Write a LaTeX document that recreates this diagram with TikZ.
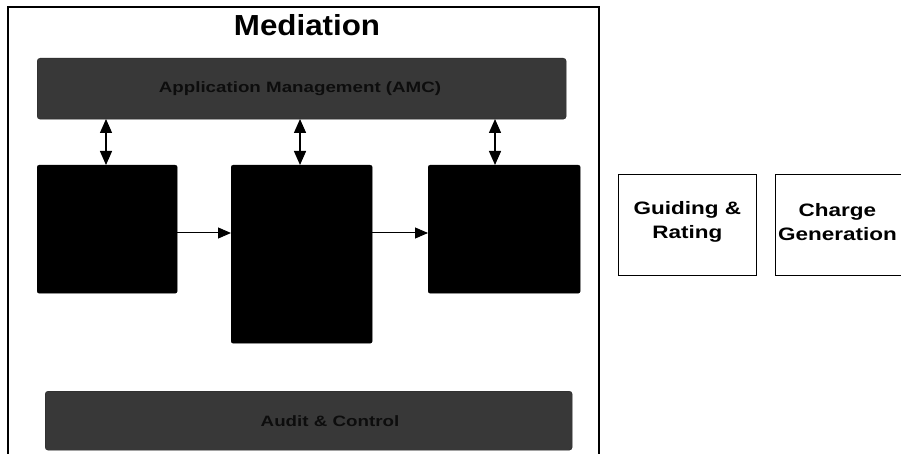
\documentclass[tikz,border=0pt]{standalone}
\usepackage{fontspec}
\setmainfont{Liberation Sans}
\newfontfamily\widefont[FakeStretch=1.25]{Liberation Sans}
\newfontfamily\titlefont[FakeStretch=1.08]{Liberation Sans}
\usetikzlibrary{arrows.meta}
\tikzset{
  blackbox/.style={draw=black, fill=black, rounded corners=2pt},
  darkbar/.style={draw=black!85, fill=black!78, rounded corners=3pt},
  whitebox/.style={draw=black, line width=0.9pt, fill=white},
  flow/.style={-{Triangle[length=13pt,width=11pt]}, line width=1pt},
  both/.style={{Triangle[length=14pt,width=12pt]}-{Triangle[length=14pt,width=12pt]}, line width=1.4pt},
  bartext/.style={font=\widefont\bfseries\fontsize{15}{18}\selectfont, text=black!95},
  boxtext/.style={font=\widefont\bfseries\fontsize{18}{24}\selectfont, align=center}
}
\begin{document}
\begin{tikzpicture}[x=1pt,y=-1pt]
\useasboundingbox (0,0) rectangle (901,454);
\fill[white] (0,0) rectangle (901,454);
% Mediation frame
\draw[line width=1.5pt] (8,7) rectangle (599,470);
\node[font=\titlefont\bfseries\fontsize{29}{36}\selectfont] (title) at (307,25) {Mediation};
% top bar
\node[darkbar, minimum width=529pt, minimum height=61pt, anchor=north west] (top) at (37,58) {};
\node[bartext] (toptext) at (300,89) {Application Management (AMC)};
% black boxes
\node[blackbox, minimum width=140pt, minimum height=128pt, anchor=north west] (b1) at (37,165) {};
\node[blackbox, minimum width=141pt, minimum height=178pt, anchor=north west] (b2) at (231,165) {};
\node[blackbox, minimum width=152pt, minimum height=128pt, anchor=north west] (b3) at (428,165) {};
% bottom bar
\node[darkbar, minimum width=527pt, minimum height=59pt, anchor=north west] (bot) at (45,391) {};
\node[bartext] (bottext) at (330,421) {Audit \& Control};
% vertical double arrows
\coordinate (t1) at (106,119); \coordinate (k1) at (106,165);
\coordinate (t2) at (300,119); \coordinate (k2) at (300,165);
\coordinate (t3) at (495,119); \coordinate (k3) at (495,165);
\draw[both] (t1) -- (k1);
\draw[both] (t2) -- (k2);
\draw[both] (t3) -- (k3);
% horizontal arrows
\draw[flow] (b1.east |- 0,233) -- (b2.west |- 0,233);
\draw[flow] (b2.east |- 0,233) -- (b3.west |- 0,233);
% right boxes
\node[whitebox, minimum width=138pt, minimum height=101pt, anchor=north west] (gr) at (618,174) {};
\node[boxtext] (grtext) at (gr.center) [yshift=3pt] {Guiding \&\\Rating};
\node[whitebox, minimum width=134pt, minimum height=101pt, anchor=north west] (cg) at (775,174) {};
\node[boxtext, xshift=-5pt] (cgtext) at (cg.center) [yshift=3pt] {Charge\\Generation};
\end{tikzpicture}
\end{document}
